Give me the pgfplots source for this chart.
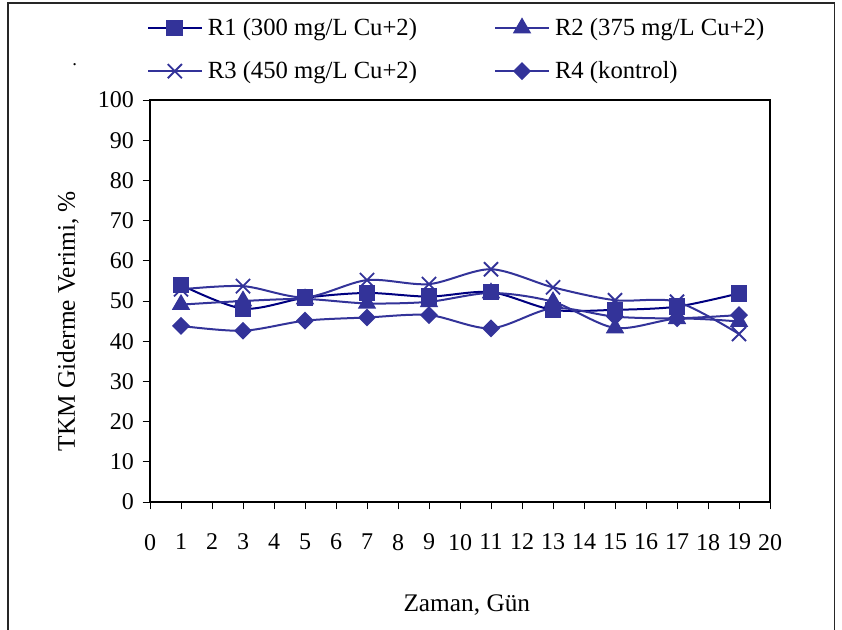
\documentclass[border=0pt]{standalone}
\usepackage{pgfplots}
\pgfplotsset{compat=1.18}
\usepackage{fontspec}
\setmainfont{Liberation Serif}
\definecolor{navy}{RGB}{0,0,128}
\definecolor{mk}{RGB}{51,51,153}
\begin{document}
\begin{tikzpicture}
\useasboundingbox (0,0) rectangle (631.5pt,471.75pt);
\draw[line width=0.8pt, black!85] (6pt,-2pt) -- (6pt,469.5pt) -- (626pt,469.5pt) -- (626pt,-2pt);
\node[font=\fontsize{14}{16}\selectfont] at (56pt,423pt) {.};
\begin{axis}[
 at={(112.5pt,95.25pt)}, anchor=south west,
 scale only axis, width=465pt, height=301.5pt,
 xmin=0, xmax=20, ymin=0, ymax=100,
 xtick={0,...,20}, ytick={0,10,...,100},
 tick pos=left,
 tick align=outside, major tick length=5.5pt,
 axis line style={line width=1.2pt},
 tick style={black, line width=0.6pt},
 /pgf/number format/assume math mode=true,
 ticklabel style={font=\fontsize{18}{21}\selectfont},
 xticklabel shift=15pt,
 yticklabel shift=3pt,
 xlabel={Zaman, Gün}, ylabel={TKM Giderme Verimi, \%},
 label style={font=\fontsize{19}{22}\selectfont},
 xlabel style={at={(axis description cs:0.511,-0.256)}, anchor=center},
 ylabel style={at={(axis description cs:-0.132,0.45)}, anchor=center},
 legend columns=2,
 legend cell align=left,
 legend style={draw=none, fill=none, font=\fontsize{18.5}{21}\selectfont,
   at={(axis description cs:-0.005,1.21)}, anchor=north west,
   /tikz/column 2/.style={column sep=54pt}, row sep=14pt, inner sep=0pt,
   nodes={inner xsep=4pt}},
 legend image code/.code={\draw[mark repeat=2,mark phase=2] plot coordinates {(0pt,0pt) (20pt,0pt) (40pt,0pt)};},
]
\addplot[navy, line width=1.5pt, smooth, mark=square*, mark options={mk, fill=mk, solid, mark size=5.5pt}]
 coordinates {(1,54) (3,48.1) (5,50.8) (7,52) (9,51.1) (11,52.2) (13,47.8) (15,47.8) (17,48.6) (19,51.9)};
\addlegendentry{R1 (300 mg/L Cu+2)}
\addplot[mk, line width=1.5pt, smooth, mark=triangle*, mark options={mk, fill=mk, solid, mark size=6.5pt}]
 coordinates {(1,49.1) (3,50) (5,50.5) (7,49.4) (9,49.8) (11,52) (13,49.8) (15,43.3) (17,45.6) (19,44.9)};
\addlegendentry{R2 (375 mg/L Cu+2)}
\addplot[mk, line width=1.5pt, smooth, mark=x, mark options={mk, solid, mark size=7.5pt, line width=1.4pt}]
 coordinates {(1,52.9) (3,53.7) (5,50.9) (7,55.2) (9,54.2) (11,57.9) (13,53.4) (15,50.2) (17,49.8) (19,41.8)};
\addlegendentry{R3 (450 mg/L Cu+2)}
\addplot[mk, line width=1.5pt, smooth, mark=square*, mark options={mk, fill=mk, solid, rotate=45, mark size=4pt}]
 coordinates {(1,43.8) (3,42.6) (5,45.1) (7,45.9) (9,46.5) (11,43.2) (13,48.2) (15,46.1) (17,45.7) (19,46.5)};
\addlegendentry{R4 (kontrol)}
\end{axis}
\end{tikzpicture}
\end{document}
